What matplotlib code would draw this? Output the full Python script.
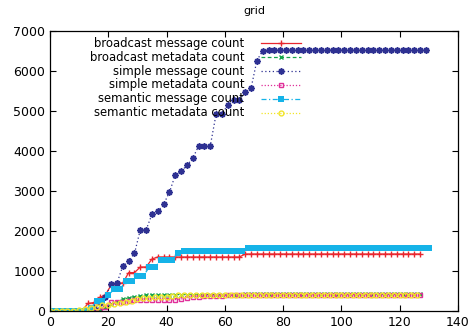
# grid: message / metadata counts (gnuplot-style linespoints)
import matplotlib.pyplot as plt
from matplotlib.lines import Line2D

x_odd = list(range(1, 130, 2))
x_even = list(range(0, 131, 2))

broadcast_msg = [0, 0, 0, 0, 0, 0, 190, 210, 340, 400, 650, 700, 700, 960, 960,
                 1100, 1100, 1300, 1350, 1350, 1350, 1350, 1350, 1350, 1350, 1350,
                 1350, 1350, 1350, 1350, 1350, 1350, 1350,
                 1425, 1425, 1425, 1425, 1425, 1425, 1425, 1425, 1425, 1425, 1425,
                 1425, 1425, 1425, 1425, 1425, 1425, 1425, 1425, 1425, 1425, 1425,
                 1425, 1425, 1425, 1425, 1425, 1425, 1425, 1425, 1425]
broadcast_meta = [0, 0, 0, 0, 0, 0, 0, 30, 60, 100, 170, 230, 290, 330, 360, 370,
                  400, 410, 410, 410, 410, 410, 410,
                  410, 410, 410, 410, 410, 410, 410, 410, 410, 410,
                  420, 420, 420, 420, 420, 420, 420, 420, 420, 420, 420, 420, 420,
                  420, 420, 420, 420, 420, 420, 420, 420, 420, 420, 420, 420, 420,
                  420, 420, 420, 420, 420]
simple_msg = [0, 0, 0, 0, 0, 0, 20, 80, 200, 360, 670, 700, 1125, 1250, 1440,
              2030, 2030, 2420, 2490, 2670, 2970, 3400, 3490, 3640, 3820, 4125,
              4125, 4125, 4920, 4920, 5150, 5275, 5275, 5480, 5570, 6260, 6510,
              6520, 6520, 6520, 6520, 6520, 6520, 6520, 6520, 6520, 6520, 6520,
              6520, 6520, 6520, 6520, 6520, 6520, 6520, 6520, 6520, 6520, 6520,
              6520, 6520, 6520, 6520, 6520, 6520]
simple_meta = [0, 0, 0, 0, 0, 0, 0, 0, 30, 100, 230, 230, 230, 240, 270, 270, 275,
               275, 275, 280, 280, 285, 300, 330, 355, 360, 370, 375, 380, 385,
               390, 395, 400,
               410, 410, 410, 410, 410, 410, 410, 410, 410, 410, 410, 410, 410,
               410, 410, 410, 410, 410, 410, 410, 410, 410, 410, 410, 410, 410,
               410, 410, 410, 410, 410]
semantic_msg = [0, 0, 0, 0, 0, 0, 0, 80, 240, 250, 400, 540, 540, 750, 750, 870,
                870, 1090, 1090, 1275, 1275, 1275, 1460,
                1500, 1500, 1500, 1500, 1500, 1500, 1500, 1500, 1500, 1500, 1500,
                1570, 1570, 1570, 1570, 1570, 1570, 1570, 1570, 1570, 1570, 1570,
                1570, 1570, 1570, 1570, 1570, 1570, 1570, 1570, 1570, 1570, 1570,
                1570, 1570, 1570, 1570, 1570, 1570, 1570, 1570, 1570, 1570]
semantic_meta = [0, 0, 0, 0, 10, 25, 50, 80, 110, 140, 160, 180, 195, 230, 260,
                 290, 320, 330, 340, 350, 360, 380, 400,
                 400, 400, 400, 400, 400, 400, 400, 400, 400, 400,
                 410, 410, 410, 410, 410, 410, 410, 410, 410, 410, 410, 410, 410,
                 410, 410, 410, 410, 410, 410, 410, 410, 410, 410, 410, 410, 410,
                 410, 410, 410, 410, 410]

labels = ['broadcast message count', 'broadcast metadata count',
          'simple message count', 'simple metadata count',
          'semantic message count', 'semantic metadata count']

series = [
    (x_odd[:64], broadcast_msg, dict(color='#e8262e', ls='-', marker='+', ms=5, mew=1)),
    (x_odd[:64], broadcast_meta, dict(color='#16a34a', ls=(0, (3, 2)), marker='x', ms=3.5, mew=1)),
    (x_odd[:65], simple_msg, dict(color='#2e3192', ls=(0, (1, 2)), marker=(8, 2, 0), ms=4.5, mew=1.2)),
    (x_odd[:64], simple_meta, dict(color='#e0309a', ls=(0, (1, 1.5)), marker='s', ms=3.5, mew=1, mfc='none')),
    (x_even[:66], semantic_msg, dict(color='#15b3e8', ls=(0, (4, 2, 1, 2)), marker='s', ms=4.5, mew=0)),
    (x_even[:64], semantic_meta, dict(color='#f2e52a', ls=(0, (1, 1.5)), marker='o', ms=3.5, mew=1, mfc='none')),
]

fig = plt.figure(figsize=(4.77, 3.36), dpi=100)
ax = fig.add_axes([0.1048, 0.0744, 0.8552, 0.8333])

for xs, ys, st in series:
    ax.plot(xs, ys, lw=0.9, **st)

ax.set_xlim(0, 140)
ax.set_ylim(0, 7000)
ax.set_xticks(range(0, 141, 20))
ax.set_yticks(range(0, 7001, 1000))
ax.tick_params(direction='in', top=True, right=True, labelsize=9, length=4, width=0.8)
for s in ax.spines.values():
    s.set_linewidth(0.9)
ax.set_title('grid', fontsize=8, pad=12)

# gnuplot-like key: right-aligned text, sample after it
y0 = 0.956
dy = 0.0496
for i, (lab, (xs, ys, st)) in enumerate(zip(labels, series)):
    y = y0 - i * dy
    ax.text(0.476, y, lab, transform=ax.transAxes, ha='right', va='center', fontsize=8.4)
    ax.add_line(Line2D([0.517, 0.615], [y, y], transform=ax.transAxes, lw=0.9,
                       **{k: v for k, v in st.items() if k != 'marker'}))
    mk = {k: v for k, v in st.items() if k != 'ls'}
    ax.add_line(Line2D([0.566], [y], transform=ax.transAxes, ls='none', **mk))

fig.savefig('out.png', dpi=100)
